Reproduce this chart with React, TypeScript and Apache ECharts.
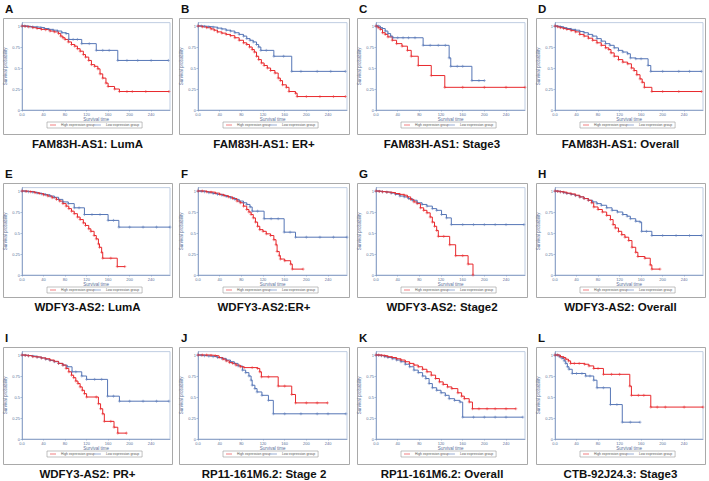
import React, { useEffect, useRef } from 'react';
import * as echarts from 'echarts';

// ---------- data (survival time in months, survival probability) ----------
const letters = ['A', 'B', 'C', 'D', 'E', 'F', 'G', 'H', 'I', 'J', 'K', 'L'];
const titles = [
  'FAM83H-AS1: LumA', 'FAM83H-AS1: ER+', 'FAM83H-AS1: Stage3', 'FAM83H-AS1: Overall',
  'WDFY3-AS2: LumA', 'WDFY3-AS2:ER+', 'WDFY3-AS2: Stage2', 'WDFY3-AS2: Overall',
  'WDFY3-AS2: PR+', 'RP11-161M6.2: Stage 2', 'RP11-161M6.2: Overall', 'CTB-92J24.3: Stage3',
];
const seriesNames = ['High expression group', 'Low expression group'];
const yTicks = [0, 0.25, 0.5, 0.75, 1];
const xTickStep = 40;
const xMax = 275;

const A_low = [[0,1],[5,1],[10,0.995],[15,0.99],[20,0.99],[28,0.985],[35,0.98],[42,0.97],[50,0.96],[58,0.95],[66,0.94],[74,0.92],[82,0.91],[87,0.84],[95,0.84],[103,0.84],[111,0.79],[125,0.79],[138,0.71],[150,0.71],[162,0.71],[178,0.59],[195,0.59],[215,0.59],[240,0.59],[272,0.59]];
const A_high = [[0,1],[6,0.995],[12,0.99],[20,0.98],[28,0.97],[36,0.96],[44,0.955],[52,0.94],[60,0.93],[68,0.91],[72,0.88],[76,0.86],[80,0.84],[86,0.81],[92,0.78],[98,0.76],[103,0.73],[108,0.7],[114,0.66],[118,0.63],[124,0.59],[129,0.54],[135,0.52],[141,0.49],[145,0.43],[150,0.38],[156,0.32],[160,0.28],[172,0.25],[181,0.22],[195,0.22],[205,0.22],[230,0.22],[273,0.22]];

const B_low = [[0,1],[6,1],[12,0.995],[20,0.99],[28,0.985],[36,0.975],[44,0.965],[52,0.95],[60,0.94],[68,0.92],[76,0.9],[84,0.88],[90,0.85],[96,0.83],[102,0.81],[108,0.78],[112,0.75],[116,0.71],[126,0.71],[140,0.64],[158,0.64],[173,0.46],[190,0.46],[220,0.46],[245,0.46],[272,0.46]];
const B_high = [[0,1],[8,0.99],[16,0.98],[24,0.965],[30,0.95],[36,0.93],[44,0.915],[52,0.9],[60,0.885],[68,0.86],[76,0.83],[84,0.8],[90,0.78],[95,0.75],[100,0.72],[104,0.69],[108,0.64],[112,0.6],[117,0.56],[122,0.53],[128,0.5],[134,0.47],[142,0.44],[148,0.38],[152,0.35],[156,0.3],[163,0.27],[168,0.22],[180,0.2],[183,0.16],[200,0.16],[225,0.16],[250,0.16],[272,0.16]];

const C_low = [[0,1],[4,1],[8,0.98],[12,0.97],[17,0.94],[22,0.91],[27,0.88],[31,0.86],[40,0.86],[50,0.86],[60,0.86],[72,0.86],[87,0.77],[100,0.77],[115,0.77],[128,0.77],[135,0.62],[138,0.52],[150,0.52],[160,0.52],[177,0.35],[190,0.35],[200,0.35]];
const C_high = [[0,1],[4,0.98],[8,0.96],[12,0.92],[17,0.9],[22,0.87],[30,0.83],[38,0.79],[48,0.76],[58,0.71],[65,0.64],[78,0.53],[102,0.41],[127,0.27],[160,0.27],[200,0.27],[240,0.27],[275,0.27]];

const D_low = [[0,1],[5,0.995],[10,0.99],[16,0.98],[22,0.97],[30,0.96],[38,0.95],[46,0.935],[54,0.92],[62,0.9],[70,0.88],[78,0.85],[86,0.82],[94,0.79],[102,0.77],[110,0.74],[118,0.71],[126,0.69],[135,0.67],[140,0.62],[150,0.61],[160,0.61],[173,0.53],[178,0.46],[200,0.46],[230,0.46],[250,0.46],[272,0.46]];
const D_high = [[0,1],[5,0.99],[10,0.98],[16,0.97],[22,0.96],[30,0.945],[38,0.93],[46,0.9],[54,0.88],[62,0.855],[70,0.83],[78,0.8],[86,0.77],[94,0.74],[100,0.72],[104,0.68],[110,0.64],[118,0.6],[126,0.57],[135,0.55],[142,0.5],[147,0.47],[152,0.42],[158,0.37],[162,0.33],[166,0.27],[180,0.22],[200,0.22],[230,0.22],[272,0.22]];

const E_low = [[0,1],[6,0.995],[12,0.99],[20,0.985],[28,0.975],[36,0.965],[44,0.955],[52,0.94],[60,0.925],[68,0.9],[76,0.87],[86,0.85],[97,0.8],[106,0.8],[116,0.72],[130,0.72],[145,0.72],[160,0.65],[170,0.65],[180,0.57],[200,0.57],[225,0.57],[250,0.57],[275,0.57]];
const E_high = [[0,1],[8,0.995],[16,0.99],[24,0.98],[32,0.97],[40,0.955],[48,0.94],[56,0.92],[64,0.9],[70,0.88],[76,0.85],[82,0.82],[87,0.79],[92,0.76],[97,0.73],[103,0.69],[108,0.66],[114,0.62],[118,0.59],[124,0.55],[128,0.52],[134,0.47],[138,0.43],[142,0.37],[144,0.33],[148,0.27],[150,0.2],[165,0.2],[177,0.1],[191,0.1]];

const F_low = [[0,1],[6,0.995],[12,0.99],[20,0.98],[28,0.97],[36,0.96],[44,0.95],[52,0.935],[60,0.92],[68,0.9],[76,0.88],[84,0.86],[90,0.84],[96,0.81],[100,0.76],[110,0.76],[122,0.67],[135,0.67],[148,0.67],[159,0.51],[170,0.51],[180,0.45],[200,0.45],[225,0.45],[250,0.45],[275,0.45]];
const F_high = [[0,1],[8,1],[16,0.99],[24,0.985],[32,0.975],[40,0.96],[48,0.945],[56,0.93],[64,0.91],[72,0.88],[78,0.86],[84,0.82],[90,0.78],[94,0.75],[98,0.72],[102,0.68],[106,0.63],[110,0.58],[114,0.54],[120,0.52],[126,0.49],[134,0.47],[140,0.42],[144,0.36],[146,0.28],[150,0.23],[152,0.19],[160,0.17],[171,0.13],[174,0.07],[194,0.07]];

const G_low = [[0,1],[6,0.995],[12,0.99],[20,0.985],[28,0.975],[36,0.96],[44,0.94],[52,0.93],[60,0.91],[67,0.89],[76,0.86],[85,0.84],[94,0.82],[104,0.79],[112,0.77],[121,0.72],[130,0.68],[139,0.6],[160,0.6],[180,0.6],[200,0.6],[220,0.6],[240,0.6],[273,0.6]];
const G_high = [[0,1],[6,0.995],[12,0.99],[20,0.985],[28,0.98],[36,0.97],[44,0.96],[52,0.95],[58,0.93],[64,0.9],[70,0.87],[76,0.85],[82,0.8],[88,0.77],[94,0.74],[100,0.69],[104,0.63],[108,0.58],[112,0.53],[115,0.46],[125,0.46],[136,0.36],[147,0.23],[160,0.23],[170,0.13],[179,0]];

const H_low = [[0,1],[5,0.995],[10,0.99],[16,0.98],[22,0.97],[30,0.96],[38,0.945],[46,0.93],[54,0.91],[62,0.89],[70,0.87],[78,0.85],[86,0.83],[96,0.8],[106,0.77],[116,0.75],[126,0.72],[134,0.7],[140,0.67],[150,0.64],[158,0.63],[161,0.52],[170,0.52],[180,0.47],[200,0.47],[225,0.47],[250,0.47],[272,0.47]];
const H_high = [[0,1],[5,0.995],[10,0.99],[16,0.985],[22,0.975],[30,0.965],[38,0.95],[46,0.93],[54,0.91],[62,0.89],[68,0.86],[72,0.81],[80,0.78],[88,0.75],[96,0.71],[103,0.66],[108,0.6],[112,0.56],[118,0.52],[124,0.48],[130,0.45],[137,0.41],[143,0.33],[150,0.27],[154,0.22],[167,0.2],[177,0.12],[180,0.07],[195,0.07]];

const I_low = [[0,1],[6,0.995],[12,0.99],[20,0.985],[28,0.975],[36,0.965],[44,0.95],[52,0.935],[60,0.92],[68,0.9],[76,0.88],[84,0.86],[93,0.8],[100,0.8],[111,0.75],[120,0.71],[135,0.71],[148,0.71],[159,0.51],[170,0.51],[181,0.45],[200,0.45],[225,0.45],[250,0.45],[273,0.45]];
const I_high = [[0,1],[6,0.995],[12,0.99],[20,0.98],[28,0.975],[36,0.965],[44,0.955],[52,0.94],[60,0.925],[68,0.9],[76,0.88],[82,0.84],[87,0.8],[92,0.76],[96,0.73],[100,0.69],[104,0.66],[108,0.62],[112,0.58],[116,0.54],[120,0.5],[138,0.5],[142,0.42],[146,0.36],[150,0.3],[153,0.21],[165,0.21],[171,0.14],[178,0.07],[194,0.07]];

const J_low = [[0,1],[6,0.995],[12,0.99],[20,0.985],[28,0.98],[36,0.97],[44,0.96],[52,0.94],[60,0.92],[67,0.9],[74,0.87],[82,0.82],[88,0.79],[94,0.75],[98,0.7],[100,0.64],[105,0.6],[109,0.56],[118,0.52],[130,0.46],[139,0.3],[160,0.3],[190,0.3],[220,0.3],[240,0.3],[273,0.3]];
const J_high = [[0,1],[8,1],[16,1],[24,0.995],[32,0.99],[39,0.97],[46,0.95],[52,0.93],[58,0.91],[64,0.9],[70,0.88],[78,0.86],[85,0.85],[100,0.85],[110,0.84],[114,0.8],[117,0.74],[130,0.74],[148,0.63],[160,0.63],[173,0.53],[180,0.43],[200,0.43],[220,0.43],[239,0.43]];

const K_low = [[0,1],[5,0.995],[10,0.99],[16,0.98],[22,0.97],[30,0.955],[38,0.94],[46,0.92],[54,0.89],[62,0.86],[70,0.82],[78,0.79],[86,0.75],[92,0.72],[98,0.66],[104,0.61],[112,0.58],[120,0.55],[128,0.52],[135,0.48],[145,0.46],[155,0.44],[160,0.26],[180,0.26],[200,0.26],[220,0.26],[240,0.26],[271,0.26]];
const K_high = [[0,1],[5,1],[10,0.995],[16,0.99],[22,0.98],[30,0.97],[38,0.955],[46,0.94],[54,0.92],[62,0.9],[70,0.88],[78,0.86],[86,0.83],[94,0.8],[102,0.76],[110,0.72],[117,0.68],[124,0.65],[132,0.62],[140,0.6],[151,0.55],[158,0.51],[163,0.48],[172,0.44],[178,0.36],[190,0.36],[205,0.36],[220,0.36],[240,0.36],[258,0.36]];

const L_low = [[0,1],[4,1],[8,0.98],[13,0.96],[17,0.93],[20,0.9],[23,0.86],[26,0.83],[32,0.78],[40,0.78],[50,0.78],[57,0.75],[65,0.75],[72,0.7],[78,0.61],[90,0.61],[103,0.41],[115,0.41],[125,0.2],[140,0.2],[158,0.2]];
const L_high = [[0,1],[5,1],[10,0.98],[16,0.97],[20,0.95],[25,0.93],[29,0.9],[36,0.9],[45,0.9],[55,0.89],[63,0.87],[72,0.84],[80,0.84],[90,0.77],[105,0.77],[120,0.77],[139,0.63],[142,0.52],[155,0.52],[165,0.52],[178,0.38],[190,0.38],[205,0.38],[240,0.38],[275,0.38]];

const highData = [A_high, B_high, C_high, D_high, E_high, F_high, G_high, H_high, I_high, J_high, K_high, L_high];
const lowData = [A_low, B_low, C_low, D_low, E_low, F_low, G_low, H_low, I_low, J_low, K_low, L_low];

// ---------- layout / style ----------
const COLS = [[3, 172], [179, 349], [357, 527], [536, 705]];
const ROWS = [[18, 134], [183, 297], [347, 464]];
const RED = '#e8282c';
const BLUE = '#5676b6';
const AX = '#5a6f98';
const FONT = 'Liberation Sans, Arial, sans-serif';
const Y_MAX = 1.04;
const PLUS = 'path://M0,5L10,5M5,0L5,10';
const LEGEND_ICON = 'path://M0,0L10,0L10,1L0,1Z';

function buildOption() {
  const grid: any[] = [];
  const xAxis: any[] = [];
  const yAxis: any[] = [];
  const series: any[] = [];
  const legend: any[] = [];
  const title: any[] = [];
  const elements: any[] = [];

  titles.forEach((t, i) => {
    const c = i % 4;
    const r = Math.floor(i / 4);
    const [bl, br] = COLS[c];
    const [bt, bb] = ROWS[r];
    const gl = bl + 19;
    const gr = br - 2;
    const y1 = bt + 8;
    const y0 = bt + 92;
    const top = y1 - (Y_MAX - 1) * (y0 - y1);

    elements.push({
      type: 'rect', silent: true,
      shape: { x: bl + 0.5, y: bt + 0.5, width: br - bl, height: bb - bt },
      style: { fill: 'transparent', stroke: '#a9a9a9', lineWidth: 1 },
    });

    title.push({
      text: letters[i], left: bl + 2, top: bt - 15, padding: 0,
      textStyle: { fontSize: 11.5, fontWeight: 'bold', color: '#111', fontFamily: FONT },
    });
    title.push({
      text: t, left: (bl + br) / 2, top: bb + 4, padding: 0, textAlign: 'center',
      textStyle: { fontSize: 11.5, fontWeight: 'bold', color: '#111', fontFamily: FONT },
    });

    grid.push({
      left: gl, top, width: gr - gl, height: y0 - top,
      show: true, borderColor: '#bfcde2', borderWidth: 1, backgroundColor: '#fff',
    });
    xAxis.push({
      gridIndex: i, type: 'value', min: 0, max: xMax, interval: xTickStep,
      name: 'Survival time', nameLocation: 'middle', nameGap: 7,
      nameTextStyle: { fontSize: 4.5, color: AX, fontFamily: FONT },
      axisLine: { show: true, onZero: false, lineStyle: { color: '#7f97c0', width: 0.8 } },
      axisTick: { show: true, length: 1.5, lineStyle: { color: '#7f97c0', width: 0.6 } },
      axisLabel: {
        fontSize: 4, color: AX, margin: 2, showMaxLabel: false, fontFamily: FONT,
        formatter: (v: number) => (v === 0 ? '0.0' : String(v)),
      },
      splitLine: { show: false },
    });
    yAxis.push({
      gridIndex: i, type: 'value', min: 0, max: Y_MAX, interval: 0.25,
      name: 'Survival probability', nameLocation: 'middle', nameGap: 10,
      nameTextStyle: { fontSize: 4.5, color: AX, fontFamily: FONT },
      axisLine: { show: true, lineStyle: { color: '#7f97c0', width: 0.8 } },
      axisTick: { show: true, length: 1.5, lineStyle: { color: '#7f97c0', width: 0.6 } },
      axisLabel: {
        fontSize: 4, color: AX, margin: 2, showMaxLabel: false, fontFamily: FONT,
        formatter: (v: number) => (yTicks.indexOf(v) >= 0 ? String(v) : ''),
      },
      splitLine: { show: false },
    });

    legend.push({
      left: bl + 44, top: bt + 104, orient: 'horizontal', selectedMode: false,
      data: seriesNames, icon: LEGEND_ICON, itemWidth: 6, itemHeight: 1, itemGap: 0,
      itemStyle: { borderWidth: 0 },
      textStyle: { fontSize: 3.4, color: '#555', fontFamily: FONT },
      borderColor: '#999', borderWidth: 0.6, padding: [1.5, 3],
    });

    const mk = (name: string, data: number[][], color: string) => ({
      name, type: 'line', xAxisIndex: i, yAxisIndex: i, data, step: 'end',
      symbol: PLUS, symbolSize: 3, showSymbol: true, silent: true,
      lineStyle: { color, width: 1 },
      itemStyle: { color, borderColor: color, borderWidth: 0.5 },
      emphasis: { disabled: true },
    });
    series.push(mk(seriesNames[1], lowData[i], BLUE));
    series.push(mk(seriesNames[0], highData[i], RED));
  });

  return {
    animation: false,
    backgroundColor: '#fff',
    title, grid, xAxis, yAxis, series, legend,
    graphic: { elements },
  };
}

export default function App() {
  const ref = useRef<HTMLDivElement>(null);
  useEffect(() => {
    if (!ref.current) return;
    const chart = echarts.init(ref.current, null, { renderer: 'svg' });
    chart.setOption(buildOption() as any);
    return () => chart.dispose();
  }, []);
  return (
    <div
      ref={ref}
      style={{ position: 'absolute', left: 0, top: 0, width: 709, height: 481, background: '#fff' }}
    />
  );
}
